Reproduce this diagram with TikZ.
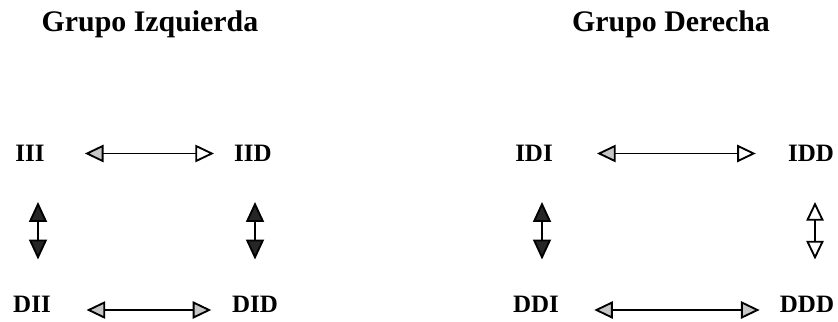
\documentclass[tikz,border=0pt]{standalone}
\usepackage{fontspec}
\setmainfont{Liberation Serif}
\usetikzlibrary{arrows.meta,calc}

\tikzset{
  OpenTri/.tip={Triangle[open, length=14pt, width=13pt]},
  LightTri/.tip={Triangle[length=14pt, width=13pt, fill=gray!45]},
  DarkTri/.tip={Triangle[length=15pt, width=13.5pt, fill=black!85]},
}

\begin{document}
\begin{tikzpicture}[x=0.75pt,y=-0.75pt,
  title/.style={font=\fontsize{22.4}{26}\selectfont\bfseries, inner sep=0pt, anchor=base},
  lbl/.style={font=\fontsize{18.75}{22}\selectfont\bfseries, inner sep=0pt},
  link/.style={line width=1.4pt},
]
\useasboundingbox (0,0) rectangle (838,321);

% group headings
\node[title] (tl) at (150,32) {Grupo Izquierda};
\node[title] (tr) at (671,32) {Grupo Derecha};

% left group
\node[lbl] (III) at (30,153.5) {III};
\node[lbl] (IID) at (253,153.5) {IID};
\node[lbl] (DII) at (32,304) {DII};
\node[lbl] (DID) at (255,304) {DID};

% right group
\node[lbl] (IDI) at (534,153.5) {IDI};
\node[lbl] (IDD) at (811,153.5) {IDD};
\node[lbl] (DDI) at (536,304) {DDI};
\node[lbl] (DDD) at (807,304) {DDD};

% horizontal links
\draw[link, LightTri-OpenTri]
  ($(III.east)+(40,0)$) -- ($(IID.west)+(-20,0)$);
\draw[link, LightTri-LightTri]
  ($(DII.east)+(35.5,6)$) -- ($(DID.west)+(-20.5,6)$);
\draw[link, LightTri-OpenTri]
  ($(IDI.east)+(44,0)$) -- ($(IDD.west)+(-32,0)$);
\draw[link, LightTri-LightTri]
  ($(DDI.east)+(35,6)$) -- ($(DDD.west)+(-20,6)$);

% vertical links
\draw[link, DarkTri-DarkTri]
  ($(III.south)+(8,40)$) -- ($(DII.north)+(6,-36)$);
\draw[link, DarkTri-DarkTri]
  ($(IID.south)+(2,40)$) -- ($(DID.north)+(0,-36)$);
\draw[link, DarkTri-DarkTri]
  ($(IDI.south)+(8,40)$) -- ($(DDI.north)+(6,-36)$);
\draw[link, OpenTri-OpenTri]
  ($(IDD.south)+(4,40)$) -- ($(DDD.north)+(8,-36)$);
\end{tikzpicture}
\end{document}
